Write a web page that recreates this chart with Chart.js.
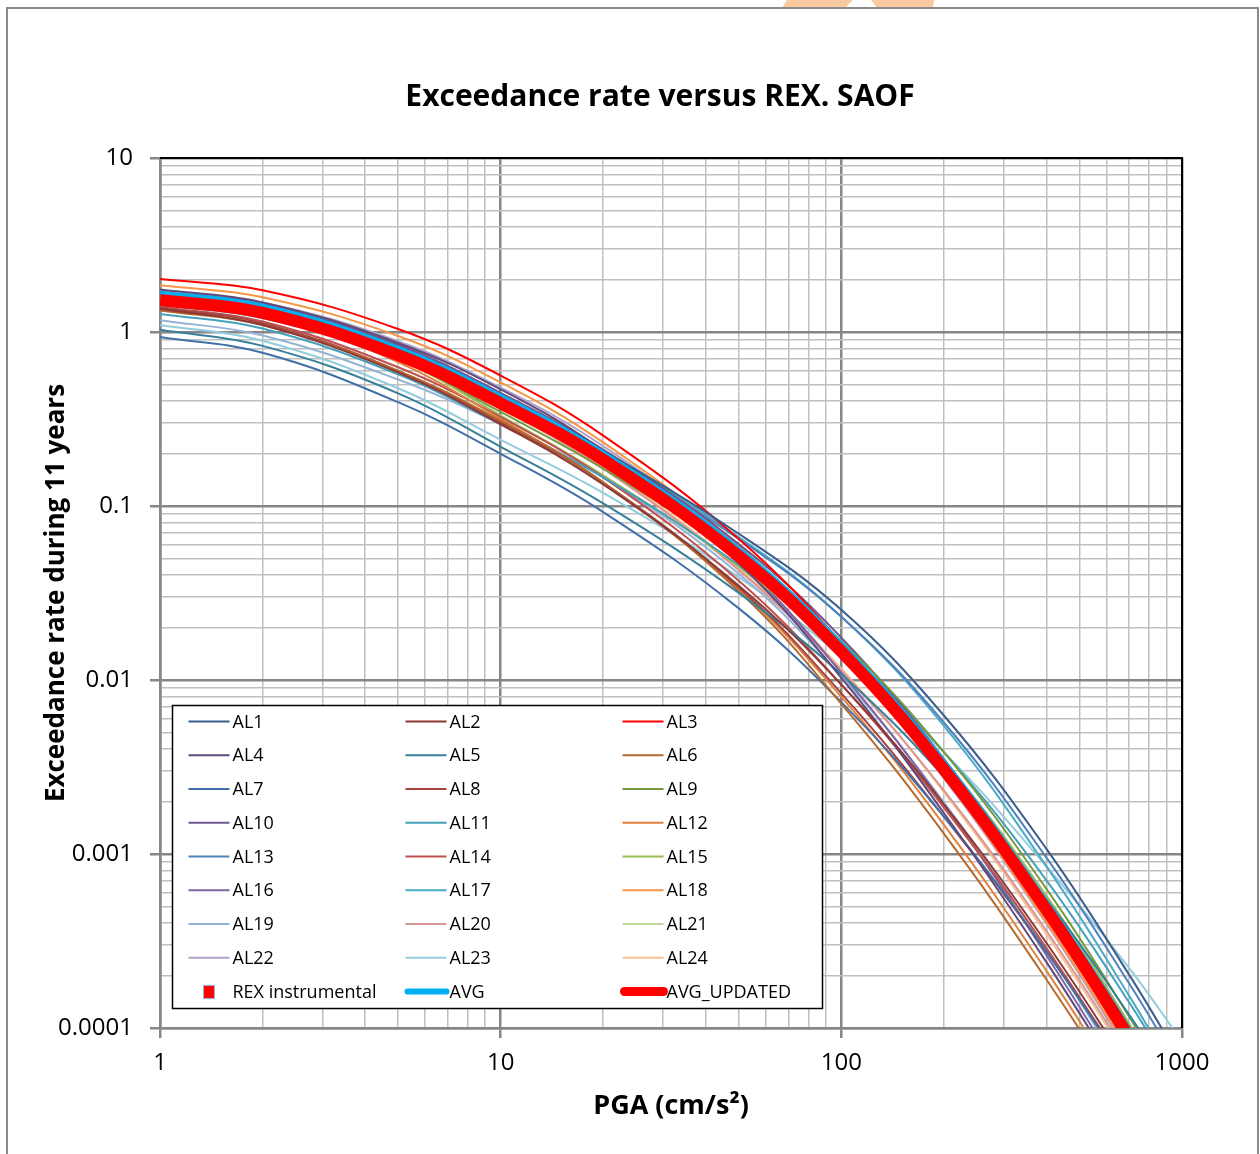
<!DOCTYPE html>
<html>
<head>
<meta charset="utf-8">
<title>Exceedance rate versus REX. SAOF</title>
<script src="https://cdn.jsdelivr.net/npm/chart.js@4.4.1/dist/chart.umd.min.js"></script>
<style>
  html, body { margin: 0; padding: 0; background: #fff; }
  #wrap { width: 1260px; height: 1154px; }
</style>
</head>
<body>
<div id="wrap"><canvas id="hazardChart" width="1260" height="1154"></canvas></div>
<script>
// PGA sample points (cm/s2), shared by every curve
const pgaValues = [1, 2, 5, 10, 20, 50, 100, 200, 400, 700, 1000];

// exceedance rates, one array per curve
const al1 = [1.675, 1.413, 0.789, 0.417, 0.2065, 0.0693, 0.0253, 0.00625, 0.00107, 0.000202, 0.0000635];
const al2 = [1.361, 1.096, 0.585, 0.295, 0.133, 0.0348, 0.00940, 0.00193, 0.000308, 0.0000582, 0.0000179];
const al3 = [2.014, 1.738, 1.040, 0.562, 0.254, 0.0647, 0.0163, 0.00306, 0.000436, 0.0000767, 0.0000231];
const al4 = [1.754, 1.479, 0.865, 0.468, 0.2065, 0.0469, 0.0103, 0.00172, 0.000239, 0.0000422, 0.0000130];
const al5 = [1.030, 0.832, 0.444, 0.219, 0.1035, 0.0317, 0.0108, 0.00279, 0.000548, 0.000119, 0.0000401];
const al6 = [1.330, 1.096, 0.598, 0.309, 0.1365, 0.0324, 0.00730, 0.00131, 0.000190, 0.0000351, 0.0000108];
const al7 = [0.935, 0.759, 0.395, 0.1995, 0.0923, 0.0258, 0.00746, 0.00164, 0.000275, 0.0000531, 0.0000167];
const al8 = [1.377, 1.122, 0.598, 0.302, 0.1365, 0.0340, 0.00838, 0.00164, 0.000275, 0.0000556, 0.0000175];
const al9 = [1.600, 1.318, 0.703, 0.347, 0.164, 0.0514, 0.0167, 0.00385, 0.000630, 0.000116, 0.0000357];
const al10 = [1.694, 1.445, 0.845, 0.447, 0.211, 0.0604, 0.0175, 0.00352, 0.000536, 0.0000966, 0.0000297];
const al11 = [1.271, 1.047, 0.571, 0.295, 0.146, 0.0458, 0.0156, 0.00385, 0.000706, 0.000140, 0.0000450];
const al12 = [1.563, 1.288, 0.671, 0.316, 0.1365, 0.0332, 0.00800, 0.00147, 0.000213, 0.0000385, 0.0000118];
const al13 = [1.600, 1.349, 0.753, 0.398, 0.197, 0.0647, 0.0231, 0.00570, 0.000953, 0.000180, 0.0000566];
const al14 = [1.393, 1.148, 0.627, 0.324, 0.146, 0.0372, 0.00940, 0.00185, 0.000288, 0.0000531, 0.0000163];
const al15 = [1.637, 1.349, 0.703, 0.331, 0.150, 0.0448, 0.01455, 0.00344, 0.000574, 0.000106, 0.0000326];
const al16 = [1.675, 1.413, 0.826, 0.437, 0.197, 0.0480, 0.0110, 0.00193, 0.000262, 0.0000452, 0.0000139];
const al17 = [1.426, 1.202, 0.703, 0.389, 0.202, 0.0662, 0.0231, 0.00545, 0.000849, 0.000153, 0.0000460];
const al18 = [1.858, 1.585, 0.948, 0.513, 0.232, 0.0590, 0.0149, 0.00279, 0.000406, 0.0000733, 0.0000225];
const al19 = [1.169, 0.955, 0.533, 0.295, 0.146, 0.0408, 0.0105, 0.00198, 0.000281, 0.0000495, 0.0000149];
const al20 = [1.493, 1.259, 0.703, 0.363, 0.164, 0.0428, 0.0113, 0.00232, 0.000362, 0.0000668, 0.0000206];
const al21 = [1.656, 1.380, 0.771, 0.398, 0.184, 0.0502, 0.0139, 0.00292, 0.000456, 0.0000841, 0.0000259];
const al22 = [1.714, 1.479, 0.885, 0.479, 0.221, 0.0577, 0.01455, 0.00273, 0.000397, 0.0000700, 0.0000215];
const al23 = [1.099, 0.891, 0.475, 0.240, 0.119, 0.0390, 0.0136, 0.00385, 0.000849, 0.000221, 0.0000838];
const al24 = [1.528, 1.288, 0.719, 0.372, 0.168, 0.0438, 0.0116, 0.00227, 0.000346, 0.0000638, 0.0000196];
const avg = [1.637, 1.380, 0.789, 0.417, 0.197, 0.0551, 0.0156, 0.00328, 0.000512, 0.0000944, 0.0000290];
const avgUpdated = [1.528, 1.288, 0.736, 0.389, 0.184, 0.0514, 0.01455, 0.00306, 0.000478, 0.0000881, 0.0000271];
const rexInstrumental = [];

const xDecades = [1, 10, 100, 1000];
const xTickLabels = ['1', '10', '100', '1000'];
const yDecades = [0.0001, 0.001, 0.01, 0.1, 1, 10];
const yTickLabels = ['0.0001', '0.001', '0.01', '0.1', '1', '10'];

const chartTitle = 'Exceedance rate versus REX. SAOF';

const alSeries = [al1, al2, al3, al4, al5, al6, al7, al8, al9, al10, al11, al12,
  al13, al14, al15, al16, al17, al18, al19, al20, al21, al22, al23, al24];

const alColors = [
  '#3b5e8c', '#8e3a37', '#ff0000', '#5e4a7c', '#37809a', '#b4692e',
  '#4170a8', '#a7423f', '#779a3f', '#6d5791', '#44a0ba', '#e0823c',
  '#4f81bd', '#c0504d', '#9bbb59', '#8064a2', '#4bacc6', '#f79646',
  '#95b3d7', '#d99694', '#c3d69b', '#b3a2c7', '#93cddd', '#fac090',
];

const majorGrid = '#868686';
const minorGrid = '#bfbfbf';

function logTicks(decades) {
  const ticks = [];
  decades.forEach((d, i) => {
    ticks.push(d);
    if (i < decades.length - 1) {
      for (let k = 2; k <= 9; k++) ticks.push(+(k * d).toPrecision(6));
    }
  });
  return ticks;
}

function toPoints(values) {
  return values.map((y, i) => ({ x: pgaValues[i], y }));
}

function gridFor(decades) {
  const isMajor = (ctx) => ctx.tick && decades.includes(ctx.tick.value);
  return {
    color: (ctx) => (isMajor(ctx) ? majorGrid : minorGrid),
    lineWidth: (ctx) => (isMajor(ctx) ? 2.5 : 1.5),
    tickColor: (ctx) => (isMajor(ctx) ? majorGrid : 'rgba(0,0,0,0)'),
    tickLength: 10,
  };
}

// white page, outer frame, the clipped logo at the top and the title
const pageFrame = {
  id: 'pageFrame',
  beforeDraw(chart) {
    const { ctx, width, height } = chart;
    ctx.save();
    ctx.fillStyle = '#ffffff';
    ctx.fillRect(0, 0, width, height);
    ctx.fillStyle = '#f9c9a0';
    ctx.beginPath();
    ctx.moveTo(787, 0); ctx.lineTo(853, 0); ctx.lineTo(845, 8); ctx.lineTo(782, 8);
    ctx.closePath(); ctx.fill();
    ctx.beginPath();
    ctx.moveTo(871, 0); ctx.lineTo(934, 0); ctx.lineTo(933, 8); ctx.lineTo(877, 8);
    ctx.closePath(); ctx.fill();
    ctx.strokeStyle = '#8a8a8a';
    ctx.lineWidth = 2;
    ctx.strokeRect(7, 8, width - 9, height + 10);

    ctx.fillStyle = '#000';
    ctx.font = 'bold 30px "Open Sans"';
    ctx.textAlign = 'center';
    ctx.textBaseline = 'middle';
    ctx.fillText(chartTitle, 660, 97);
    ctx.restore();
  },
};

// black top/right plot edge plus a 3-column boxed legend inside the plot
const plotLegend = {
  id: 'plotLegend',
  afterDatasetsDraw(chart) {
    const { ctx, chartArea } = chart;
    ctx.save();
    ctx.strokeStyle = '#000';
    ctx.lineWidth = 2;
    ctx.beginPath();
    ctx.moveTo(chartArea.left, chartArea.top);
    ctx.lineTo(chartArea.right, chartArea.top);
    ctx.lineTo(chartArea.right, chartArea.bottom);
    ctx.stroke();

    const box = { left: chartArea.left + 12.5, top: 705.5, width: 650, height: 303 };
    ctx.fillStyle = '#fff';
    ctx.fillRect(box.left, box.top, box.width, box.height);
    ctx.strokeStyle = '#000';
    ctx.lineWidth = 1.5;
    ctx.strokeRect(box.left, box.top, box.width, box.height);

    ctx.font = '18px "Open Sans"';
    ctx.textBaseline = 'middle';
    ctx.textAlign = 'left';
    chart.data.datasets.forEach((ds, i) => {
      const col = i % 3;
      const row = Math.floor(i / 3);
      const x = box.left + 16 + col * 217;
      const y = box.top + 16 + row * 33.75;
      if (ds.pointStyle === 'rect') {
        ctx.fillStyle = ds.backgroundColor;
        ctx.fillRect(x + 15, y - 6, 11, 13);
        ctx.strokeStyle = '#9db7dc';
        ctx.lineWidth = 1;
        ctx.strokeRect(x + 15, y - 6, 11, 13);
      } else {
        const thick = ds.borderWidth > 3;
        ctx.strokeStyle = ds.borderColor;
        ctx.lineWidth = thick ? Math.min(ds.borderWidth - 2, 9) : 2;
        ctx.lineCap = thick ? 'round' : 'butt';
        ctx.beginPath();
        ctx.moveTo(thick ? x + 2 : x, y);
        ctx.lineTo(x + 41, y);
        ctx.stroke();
      }
      ctx.fillStyle = '#000';
      ctx.fillText(ds.label, x + 44, y + 1);
    });
    ctx.restore();
  },
};

function initHazardChart() {
  const canvas = document.getElementById('hazardChart');
  if (!canvas || typeof Chart === 'undefined') return;

  Chart.defaults.font.family = '"Open Sans", "DejaVu Sans", sans-serif';
  Chart.defaults.color = '#000';

  const curve = { pointRadius: 0, tension: 0.4, clip: 0 };

  const datasets = alSeries.map((values, i) => ({
    ...curve,
    label: `AL${i + 1}`,
    data: toPoints(values),
    borderColor: alColors[i],
    backgroundColor: alColors[i],
    borderWidth: 2,
    order: 3,
  }));

  datasets.push({
    label: 'REX instrumental',
    data: rexInstrumental,
    showLine: false,
    pointStyle: 'rect',
    pointRadius: 6,
    backgroundColor: '#ff0000',
    borderColor: '#9db7dc',
    borderWidth: 1,
    order: 0,
  });
  datasets.push({
    ...curve,
    label: 'AVG',
    data: toPoints(avg),
    borderColor: '#00b0f0',
    backgroundColor: '#00b0f0',
    borderWidth: 8,
    order: 2,
  });
  datasets.push({
    ...curve,
    label: 'AVG_UPDATED',
    data: toPoints(avgUpdated),
    borderColor: '#ff0000',
    backgroundColor: '#ff0000',
    borderWidth: 12,
    order: 1,
  });

  new Chart(canvas, {
    type: 'line',
    data: { datasets },
    plugins: [pageFrame, plotLegend],
    options: {
      responsive: false,
      animation: false,
      events: [],
      layout: { padding: { top: 158, right: 78, bottom: 0, left: 0 } },
      plugins: {
        legend: { display: false },
        tooltip: { enabled: false },
        title: { display: false },
      },
      scales: {
        x: {
          type: 'logarithmic',
          position: 'bottom',
          min: 1,
          max: 1000,
          afterBuildTicks: (scale) => {
            scale.ticks = logTicks(xDecades).map((value) => ({ value }));
          },
          afterFit: (scale) => { scale.height = 126; },
          ticks: {
            autoSkip: false,
            maxRotation: 0,
            minRotation: 0,
            padding: 11,
            color: '#000',
            font: { size: 24 },
            callback: (value) => {
              const i = xDecades.indexOf(value);
              return i >= 0 ? xTickLabels[i] : '';
            },
          },
          grid: gridFor(xDecades),
          border: { color: majorGrid, width: 2.5 },
          title: {
            display: true,
            text: 'PGA (cm/s²)',
            color: '#000',
            font: { size: 27, weight: 'bold' },
            padding: { top: 0, bottom: 31 },
          },
        },
        y: {
          type: 'logarithmic',
          min: 0.0001,
          max: 10,
          afterBuildTicks: (scale) => {
            scale.ticks = logTicks(yDecades).map((value) => ({ value }));
          },
          afterFit: (scale) => { scale.width = 160; },
          ticks: {
            autoSkip: false,
            padding: 17,
            color: '#000',
            font: { size: 24 },
            callback: (value) => {
              const i = yDecades.indexOf(value);
              return i >= 0 ? yTickLabels[i] : '';
            },
          },
          grid: gridFor(yDecades),
          border: { color: majorGrid, width: 2.5 },
          title: {
            display: true,
            text: 'Exceedance rate during 11 years',
            color: '#000',
            font: { size: 26, weight: 'bold' },
            padding: { top: 41, bottom: 0 },
          },
        },
      },
    },
  });
}

window.addEventListener('DOMContentLoaded', () => {
  const ready = document.fonts
    ? Promise.all([
        document.fonts.load('18px "Open Sans"'),
        document.fonts.load('bold 26px "Open Sans"'),
      ]).catch(() => {})
    : Promise.resolve();
  ready.then(initHazardChart);
});
</script>
</body>
</html>
